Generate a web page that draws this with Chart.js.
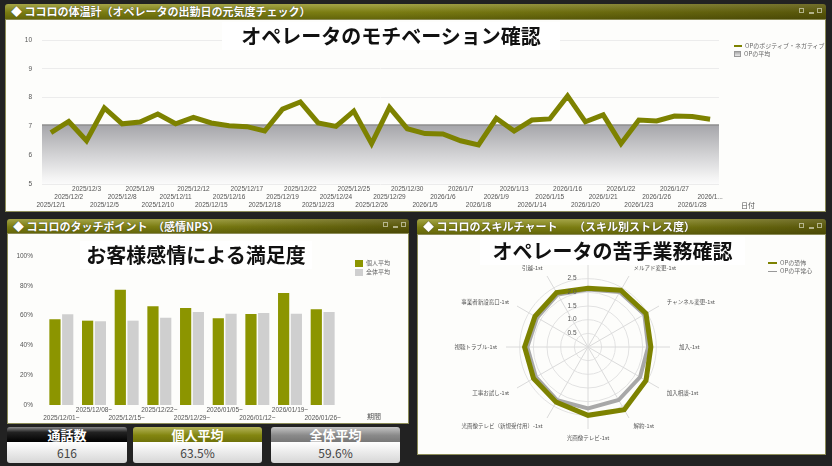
<!DOCTYPE html>
<html>
<head>
<meta charset="utf-8">
<script src="https://cdn.jsdelivr.net/npm/chart.js@4.4.1/dist/chart.umd.min.js"></script>
<style>
  body { margin:0; width:832px; height:466px; background:#222; position:relative; overflow:hidden; font-family:"Noto Sans CJK JP", sans-serif; }
  .head { position:absolute; color:#fff; font-weight:bold; font-size:11px; line-height:15px; padding-left:6px; box-sizing:border-box; white-space:pre; border-radius:3px 3px 0 0;
          background: linear-gradient(to right, rgba(0,0,0,0) 45%, rgba(35,28,0,.4)), linear-gradient(#a4a448, #7b7d12 55%, #64660a); text-shadow:0 0 1px #333; }
  .head .btn { position:absolute; top:4px; width:5px; height:5px; border:1px solid #d8d8c0; box-sizing:border-box; opacity:.7; }
  .body { position:absolute; background:#fdfdfb; border:1px solid #8c8c58; box-sizing:border-box; }
  canvas { position:absolute; }
  .title { position:absolute; background:#fff; font-weight:bold; font-size:20px; color:#111; text-align:center; line-height:28px; }
  .lg { position:absolute; font-size:6px; color:#666; line-height:8px; white-space:nowrap; }
  .lg i { display:inline-block; vertical-align:middle; margin-right:3px; }
  .axt { position:absolute; font-size:7px; color:#555; }
  .stat { position:absolute; top:427px; height:36px; }
  .stat .h { height:15px; line-height:15px; text-align:center; color:#fff; font-weight:bold; font-size:13px; border-radius:3px 3px 0 0; }
  .stat .v { height:21px; line-height:21px; text-align:center; color:#444; font-size:12px; background:linear-gradient(#fff, #d6d6d6); border-radius:0 0 3px 3px; }
</style>
</head>
<body>

<!-- top panel -->
<div class="head" style="left:5px;top:4px;width:821px;height:15px;">◆ ココロの体温計（オペレータの出勤日の元気度チェック）<span class="btn" style="left:794px;"></span><span class="btn" style="left:804px;height:2px;top:8px;"></span><span class="btn" style="left:812px;"></span></div>
<div class="body" style="left:5px;top:19px;width:821px;height:193px;"></div>
<canvas id="lineChart" width="821" height="192" style="left:5px;top:19px;"></canvas>
<div class="title" style="left:222px;top:22px;width:338px;">オペレータのモチベーション確認</div>
<div class="lg" style="left:734px;top:42px;">
  <div><i style="width:8px;height:2px;background:#7d8200;"></i>OPのポジティブ・ネガティブ</div>
  <div><i style="width:7px;height:6px;background:linear-gradient(#aaa,#e8e8e8);border:1px solid #999;box-sizing:border-box;"></i>OPの平均</div>
</div>
<div class="axt" style="left:741px;top:200px;">日付</div>

<!-- bottom left panel -->
<div class="head" style="left:7px;top:219px;width:402px;height:14px;line-height:14px;">◆ ココロのタッチポイント　（感情NPS）<span class="btn" style="left:376px;top:3px;"></span><span class="btn" style="left:386px;height:2px;top:7px;"></span><span class="btn" style="left:394px;top:3px;"></span></div>
<div class="body" style="left:7px;top:233px;width:402px;height:191px;"></div>
<canvas id="barChart" width="402" height="191" style="left:7px;top:233px;"></canvas>
<div class="title" style="left:80px;top:241px;width:232px;">お客様感情による満足度</div>
<div class="lg" style="left:355px;top:259px;">
  <div style="margin-bottom:1px;"><i style="width:8px;height:7px;background:#8c9500;"></i>個人平均</div>
  <div><i style="width:8px;height:7px;background:#cfcfcf;"></i>全体平均</div>
</div>
<div class="axt" style="left:367px;top:411px;">期間</div>

<!-- stat boxes -->
<div class="stat" style="left:7px;width:120px;">
  <div class="h" style="background:linear-gradient(#888 0%, #222 35%, #000 100%);">通話数</div>
  <div class="v">616</div>
</div>
<div class="stat" style="left:133px;width:129px;">
  <div class="h" style="background:linear-gradient(#b4b45a, #838610 55%, #6f720a);">個人平均</div>
  <div class="v">63.5%</div>
</div>
<div class="stat" style="left:271px;width:129px;">
  <div class="h" style="background:linear-gradient(#c4c4c4, #8a8a8a 55%, #777);">全体平均</div>
  <div class="v">59.6%</div>
</div>

<!-- right panel -->
<div class="head" style="left:417px;top:219px;width:409px;height:15px;">◆ ココロのスキルチャート　　（スキル別ストレス度）<span class="btn" style="left:382px;"></span><span class="btn" style="left:392px;height:2px;top:8px;"></span><span class="btn" style="left:400px;"></span></div>
<div class="body" style="left:417px;top:234px;width:409px;height:221px;"></div>
<canvas id="radarChart" width="409" height="221" style="left:417px;top:234px;"></canvas>
<div class="title" style="left:480px;top:237px;width:265px;">オペレータの苦手業務確認</div>
<div class="lg" style="left:768px;top:259px;">
  <div><i style="width:9px;height:2px;background:#7d8200;"></i>OPの恐怖</div>
  <div><i style="width:9px;height:1px;background:#999;"></i>OPの平常心</div>
</div>

<script>
// ==========================
// DATA
// ==========================
const dayLabels = ['2025/12/1','2025/12/2','2025/12/3','2025/12/5','2025/12/8','2025/12/9','2025/12/10','2025/12/11','2025/12/12','2025/12/15','2025/12/16','2025/12/17','2025/12/18','2025/12/19','2025/12/22','2025/12/23','2025/12/24','2025/12/25','2025/12/26','2025/12/29','2025/12/30','2026/1/5','2026/1/6','2026/1/7','2026/1/8','2026/1/9','2026/1/13','2026/1/14','2026/1/15','2026/1/16','2026/1/20','2026/1/21','2026/1/22','2026/1/23','2026/1/26','2026/1/27','2026/1/28','2026/1/29'];
const posNeg = [6.78,7.17,6.5,7.64,7.09,7.15,7.43,7.09,7.31,7.12,7.02,6.99,6.84,7.6,7.85,7.12,7.0,7.53,6.4,7.66,6.92,6.75,6.74,6.5,6.36,7.28,6.84,7.22,7.26,8.06,7.16,7.4,6.4,7.22,7.19,7.36,7.34,7.25];
const avgLabels = ['start','end'];
const avgLevel = [7.05, 7.05];
const yTicks = [5, 6, 7, 8, 9, 10];

const weekLabels = ['2025/12/01~','2025/12/08~','2025/12/15~','2025/12/22~','2025/12/29~','2026/01/05~','2026/01/12~','2026/01/19~','2026/01/26~'];
const personalAvg = [57.5,56.6,77.4,66.2,65.1,58.2,61.1,75.2,64.2];
const overallAvg = [60.9,56.2,56.6,58.6,62.4,61.3,61.7,61.3,62.4];

const skillLabels = ['料金-1st','メルアド変更-1st','チャンネル変更-1st','加入-1st','加入相談-1st','解約-1st','光画像テレビ-1st','光画像テレビ（新規受付用）-1st','工事お試し-1st','視聴トラブル-1st','事業者新設窓口-1st','引越-1st'];
const fearValues = [2.15,2.4,2.45,2.3,2.45,2.65,2.5,2.33,2.3,2.32,2.24,2.3];
const calmValues = [2.1,2.32,2.38,2.2,2.2,2.24,2.25,2.25,2.2,2.22,2.15,2.22];
const rTicks = [0.5, 1.0, 1.5, 2.0, 2.5];

const OLIVE = '#7d8200';
const tickFont = { family: '"Liberation Sans", "Noto Sans CJK JP", sans-serif', size: 6.5, lineHeight: 1.23 };

// ==========================
// LINE CHART
// ==========================
new Chart(document.getElementById('lineChart'), {
    type: 'line',
    data: {
        labels: dayLabels,
        datasets: [{
            label: 'OPのポジティブ・ネガティブ',
            data: posNeg,
            borderColor: OLIVE,
            borderWidth: 5,
            pointRadius: 0,
            tension: 0,
            fill: false
        }, {
            label: 'OPの平均',
            data: avgLevel,
            xAxisID: 'x2',
            borderColor: '#8e8e8e',
            borderWidth: 1.5,
            pointRadius: 0,
            fill: 'start',
            backgroundColor: function (ctx) {
                let chart = ctx.chart;
                let a = chart.chartArea;
                if (!a) return '#bbb';
                let top = chart.scales.y.getPixelForValue(avgLevel[0]);
                let g = chart.ctx.createLinearGradient(0, top, 0, a.bottom);
                g.addColorStop(0, '#a6a6aa');
                g.addColorStop(0.55, '#d6d6d8');
                g.addColorStop(0.9, '#f4f4f4');
                g.addColorStop(1, '#fbfbfb');
                return g;
            }
        }]
    },
    options: {
        responsive: false,
        animation: false,
        layout: { padding: { top: 21, right: 107, left: 0, bottom: 0 } },
        plugins: { legend: { display: false }, tooltip: { enabled: false } },
        scales: {
            x: {
                offset: true,
                grid: { display: false, drawTicks: false },
                border: { display: false },
                ticks: {
                    autoSkip: false, maxRotation: 0, minRotation: 0, padding: 1,
                    color: '#555', font: tickFont,
                    callback: function (v, i) {
                        let t = this.getLabelForValue(v);
                        if (i === dayLabels.length - 1) t = t.slice(0, 6) + '...';
                        let rows = ['', '', ''];
                        rows[2 - (i % 3)] = t;
                        return rows;
                    }
                },
                afterFit: function (s) { s.height = 27; }
            },
            x2: { type: 'category', labels: avgLabels, offset: false, display: false },
            y: {
                min: 5, max: 10,
                afterBuildTicks: function (s) { s.ticks = yTicks.map(v => ({ value: v })); },
                grid: { color: '#ececec', drawTicks: false },
                border: { display: false },
                ticks: { color: '#555', font: tickFont, padding: 10 },
                afterFit: function (s) { s.width = 37; }
            }
        }
    }
});

// ==========================
// BAR CHART
// ==========================
new Chart(document.getElementById('barChart'), {
    type: 'bar',
    data: {
        labels: weekLabels,
        datasets: [{
            label: '個人平均',
            data: personalAvg,
            backgroundColor: '#8c9500',
            categoryPercentage: 0.78,
            barPercentage: 0.88
        }, {
            label: '全体平均',
            data: overallAvg,
            backgroundColor: '#cfcfcf',
            categoryPercentage: 0.78,
            barPercentage: 0.88
        }]
    },
    options: {
        responsive: false,
        animation: false,
        layout: { padding: { top: 23, right: 70, left: 0, bottom: 0 } },
        plugins: { legend: { display: false }, tooltip: { enabled: false } },
        scales: {
            x: {
                grid: { display: false, drawTicks: false },
                border: { display: false },
                ticks: {
                    autoSkip: false, maxRotation: 0, minRotation: 0, padding: 1,
                    color: '#555', font: tickFont,
                    callback: function (v, i) {
                        let t = this.getLabelForValue(v);
                        return i % 2 === 0 ? ['', t] : [t, ''];
                    }
                },
                afterFit: function (s) { s.height = 19; }
            },
            y: {
                min: 0, max: 100,
                ticks: { stepSize: 20, color: '#555', font: tickFont, padding: 12, callback: v => v + '%' },
                grid: { display: false, drawTicks: false },
                border: { display: false },
                afterFit: function (s) { s.width = 38; }
            }
        }
    }
});

// ==========================
// RADAR CHART
// ==========================
const radarText = {
    id: 'radarText',
    afterDraw(chart) {
        let s = chart.scales.r;
        let c = chart.ctx;
        c.save();
        c.font = '5.5px "Noto Sans CJK JP", sans-serif';
        c.fillStyle = '#555';
        c.textBaseline = 'middle';
        skillLabels.forEach((t, i) => {
            let p = s.getPointPosition(i, s.drawingArea + 9);
            let dx = p.x - s.xCenter;
            c.textAlign = Math.abs(dx) < 2 ? 'center' : (dx < 0 ? 'right' : 'left');
            c.fillText(t, p.x, p.y);
        });
        c.textAlign = 'center';
        c.font = '6.5px "Liberation Sans", sans-serif';
        rTicks.forEach(v => {
            let p = s.getPointPositionForValue(0, v);
            c.fillText(v.toFixed(1), p.x - 16, p.y);
        });
        c.restore();
    }
};

new Chart(document.getElementById('radarChart'), {
    type: 'radar',
    data: {
        labels: skillLabels,
        datasets: [{
            label: 'OPの恐怖',
            data: fearValues,
            borderColor: OLIVE,
            borderWidth: 5,
            pointRadius: 0,
            fill: false
        }, {
            label: 'OPの平常心',
            data: calmValues,
            borderColor: '#a8a8a8',
            borderWidth: 4,
            pointRadius: 0,
            fill: false
        }]
    },
    options: {
        responsive: false,
        animation: false,
        layout: { padding: { top: 31, right: 156, left: 89, bottom: 26 } },
        plugins: { legend: { display: false }, tooltip: { enabled: false } },
        scales: {
            r: {
                min: 0, max: 3,
                ticks: { stepSize: 0.5, display: false },
                pointLabels: { display: false },
                grid: {
                    circular: true,
                    color: ctx => (ctx.tick && ctx.tick.value <= 2.5) ? '#e2e2e2' : 'rgba(0,0,0,0)'
                },
                angleLines: { color: '#dadada' }
            }
        }
    },
    plugins: [radarText]
});
</script>
</body>
</html>
